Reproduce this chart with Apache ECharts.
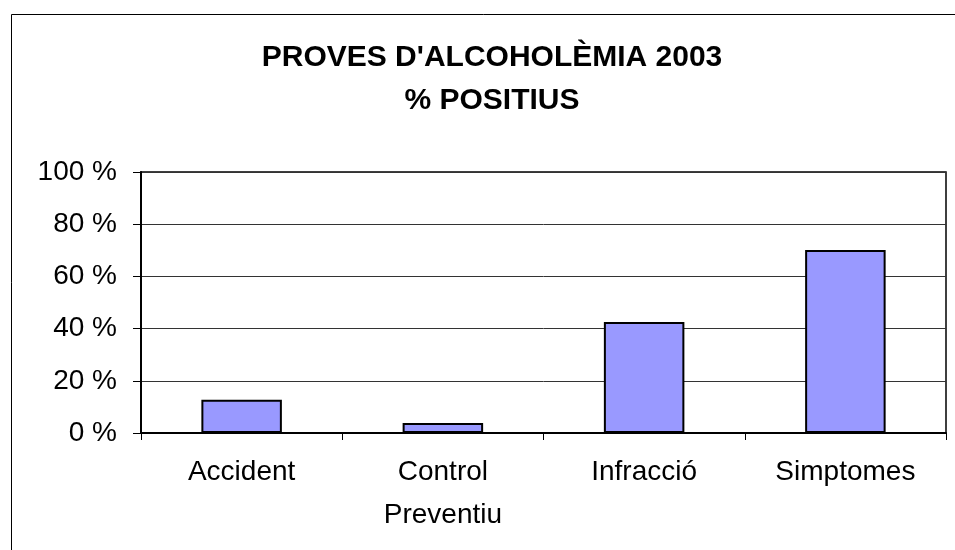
<!DOCTYPE html>
<html>
<head>
<meta charset="utf-8">
<script src="https://cdn.jsdelivr.net/npm/echarts@6/dist/echarts.min.js"></script>
<style>
  html, body { margin: 0; padding: 0; background: #fff; }
  #chart { width: 955px; height: 550px; }
</style>
</head>
<body>
<div id="chart"></div>
<script>
// dades
var categories = ['Accident', 'Control\nPreventiu', 'Infracció', 'Simptomes'];
var positius = [12.7, 3.8, 42.5, 70.1];
var titleLines = ["PROVES D'ALCOHOLÈMIA 2003", '% POSITIUS'];

var myChart = echarts.init(document.getElementById('chart'));
var font = 'Liberation Sans, Arial, sans-serif';
var option = {
    animation: false,
    backgroundColor: '#fff',
    title: {
        text: titleLines.join('\n'),
        left: 487,
        textAlign: 'center',
        top: 31,
        textStyle: {
            fontFamily: font,
            fontWeight: 'bold',
            fontSize: 30,
            lineHeight: 43,
            color: '#000'
        }
    },
    graphic: [{
        // marc exterior del grafic
        type: 'rect',
        shape: { x: 11.5, y: 14.5, width: 960, height: 560 },
        style: { fill: null, stroke: '#000', lineWidth: 1 },
        silent: true
    }],
    grid: {
        left: 141,
        right: 9,
        top: 172,
        bottom: 117,
        show: true,
        borderColor: '#000',
        borderWidth: 1.5
    },
    xAxis: {
        type: 'category',
        data: categories,
        axisLine: { lineStyle: { color: '#000', width: 2 } },
        axisTick: { show: true, length: 7, lineStyle: { color: '#000', width: 1 } },
        axisLabel: {
            fontFamily: font,
            fontSize: 28,
            color: '#000',
            margin: 18,
            lineHeight: 43
        }
    },
    yAxis: {
        type: 'value',
        min: 0,
        max: 100,
        interval: 20,
        axisLine: { show: true, lineStyle: { color: '#000', width: 2 } },
        axisTick: { show: true, length: 8, lineStyle: { color: '#000', width: 1 } },
        axisLabel: {
            formatter: '{value} %',
            fontFamily: font,
            fontSize: 28,
            color: '#000',
            margin: 24
        },
        splitLine: { lineStyle: { color: '#333', width: 1 } }
    },
    series: [{
        type: 'bar',
        data: positius,
        barWidth: '40%',
        itemStyle: {
            color: '#9999FF',
            borderColor: '#000',
            borderWidth: 2
        }
    }]
};
myChart.setOption(option);
</script>
</body>
</html>
